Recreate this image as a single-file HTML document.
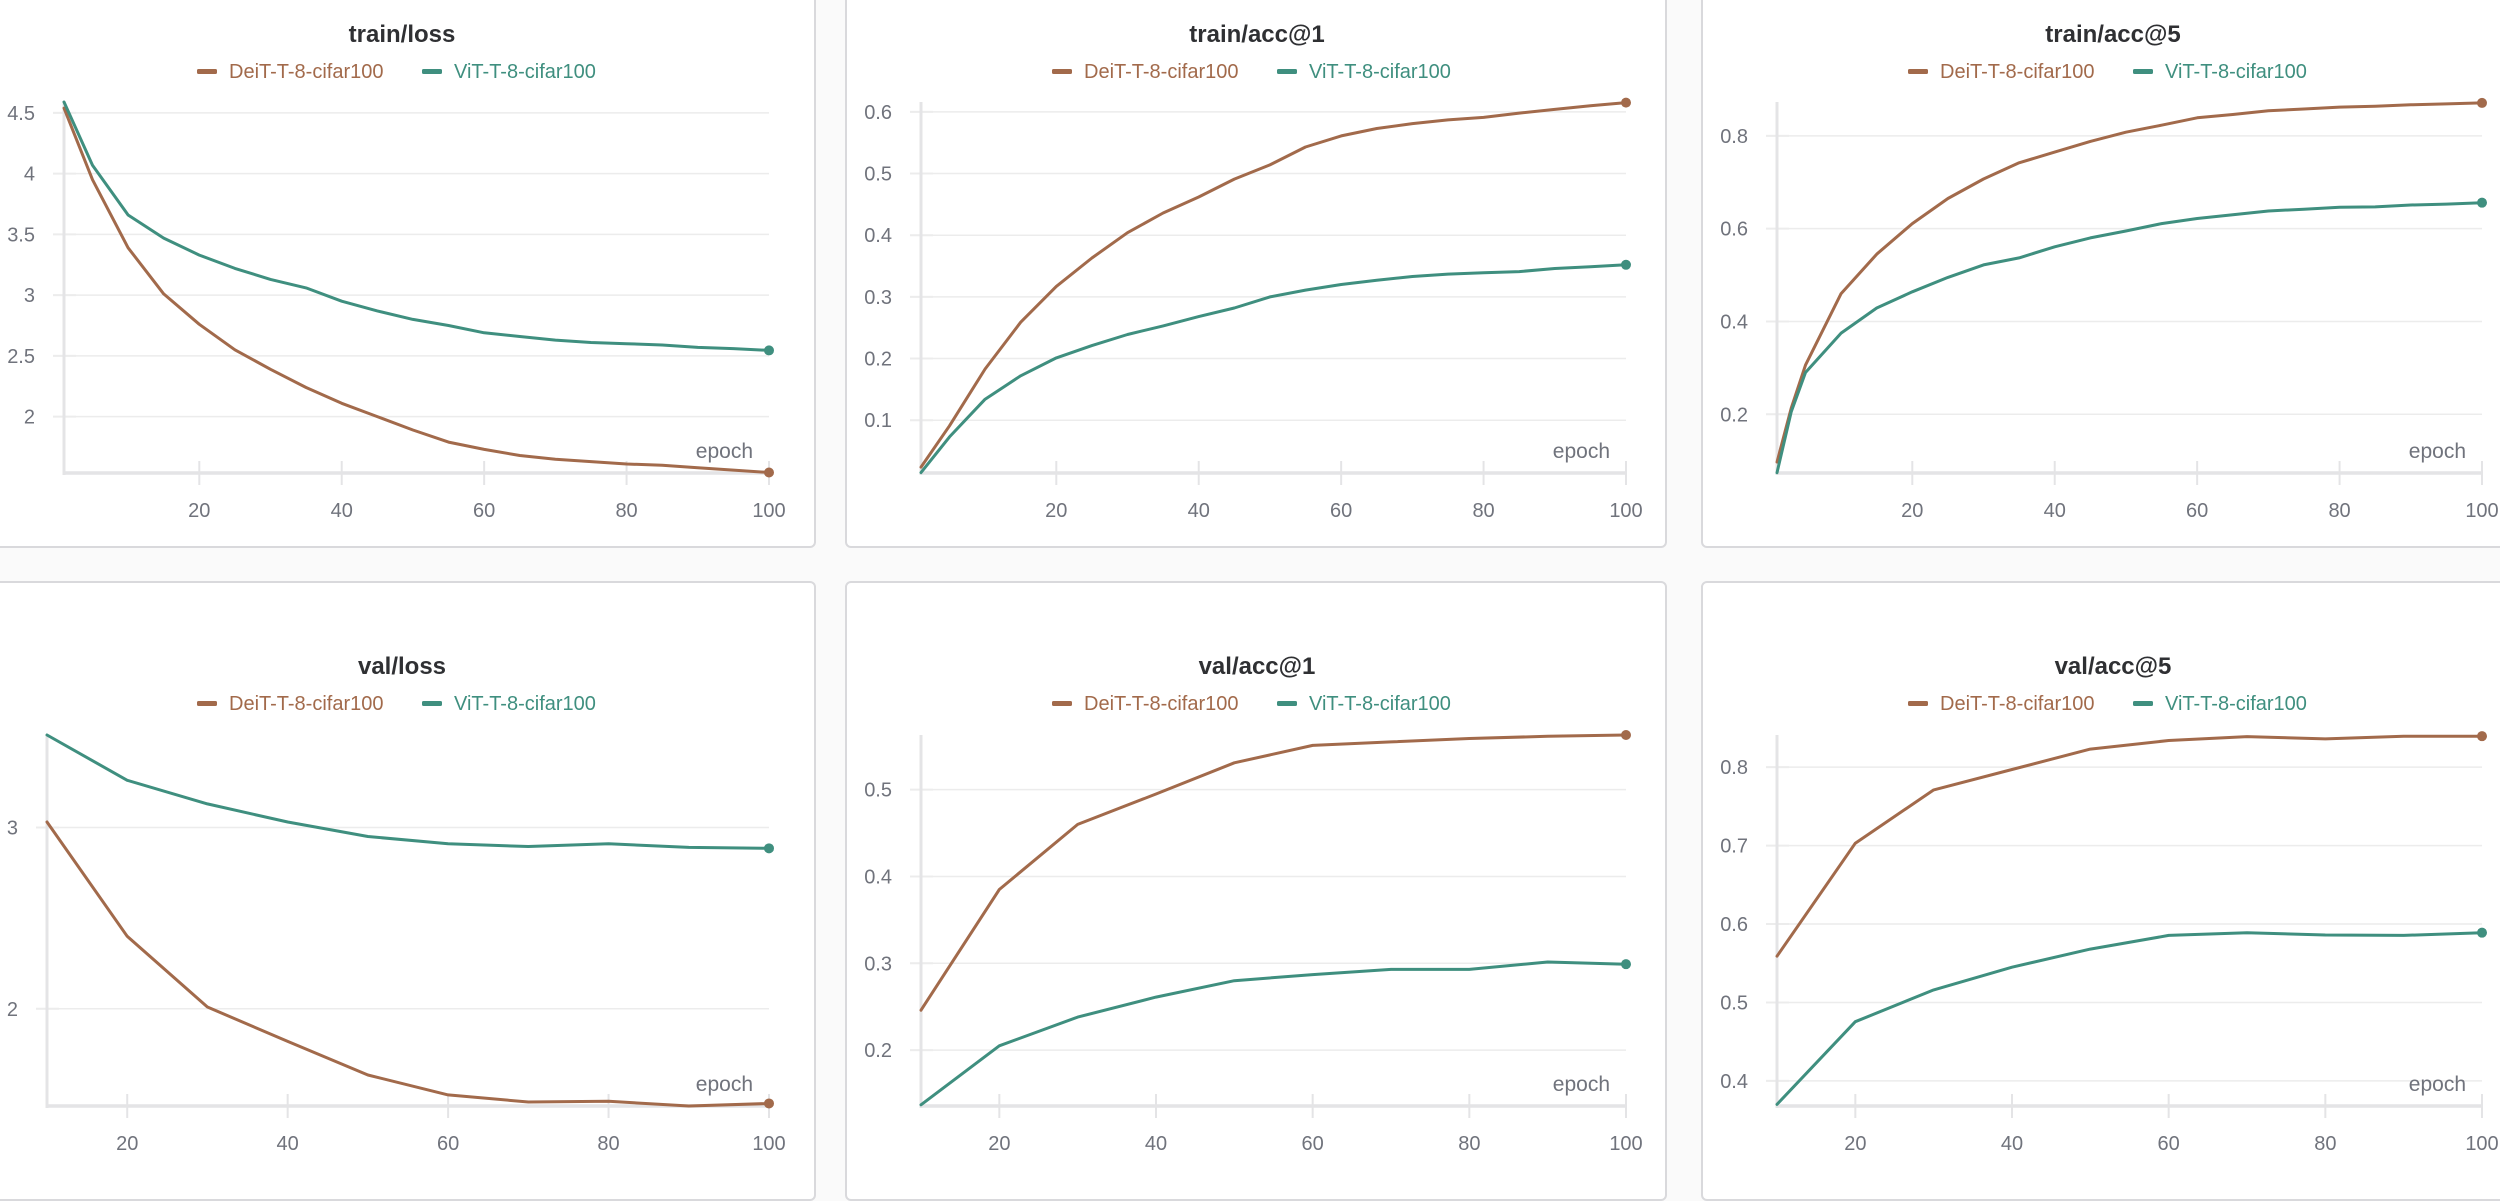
<!DOCTYPE html>
<html><head><meta charset="utf-8">
<style>
html,body{margin:0;padding:0;width:2500px;height:1168px;overflow:hidden;background:#fafafa;font-family:"Liberation Sans",sans-serif;}
.panel{position:absolute;background:#fff;border:2px solid #d9d9dc;border-radius:6px;box-sizing:border-box;}
svg{position:absolute;left:0;top:0;}
</style></head>
<body>
<div class="panel" style="left:-20px;top:-20px;width:836px;height:568px"></div>
<div class="panel" style="left:845px;top:-20px;width:822px;height:568px"></div>
<div class="panel" style="left:1701px;top:-20px;width:830px;height:568px"></div>
<div class="panel" style="left:-20px;top:581px;width:836px;height:620px"></div>
<div class="panel" style="left:845px;top:581px;width:822px;height:620px"></div>
<div class="panel" style="left:1701px;top:581px;width:830px;height:620px"></div>
<svg id="chart" width="2500" height="1168" xmlns="http://www.w3.org/2000/svg"></svg>
<script>
// ---- data ----
const trainEpochs = [1,5,10,15,20,25,30,35,40,45,50,55,60,65,70,75,80,85,90,95,100];
const trainAcc5Epochs = [1,3,5,10,15,20,25,30,35,40,45,50,55,60,65,70,75,80,85,90,95,100];
const valEpochs = [10,20,30,40,50,60,70,80,90,100];

const trainLossDeit = [4.54,3.95,3.39,3.01,2.76,2.55,2.39,2.24,2.11,2.0,1.89,1.79,1.73,1.68,1.65,1.63,1.61,1.60,1.58,1.56,1.54];
const trainLossVit  = [4.59,4.07,3.66,3.47,3.33,3.22,3.13,3.06,2.95,2.87,2.80,2.75,2.69,2.66,2.63,2.61,2.60,2.59,2.57,2.56,2.545];
const trainAcc1Deit = [0.024,0.091,0.183,0.259,0.317,0.363,0.404,0.436,0.462,0.491,0.514,0.543,0.561,0.573,0.581,0.587,0.591,0.598,0.604,0.610,0.615];
const trainAcc1Vit  = [0.015,0.073,0.134,0.172,0.201,0.221,0.239,0.253,0.268,0.282,0.300,0.311,0.320,0.327,0.333,0.337,0.339,0.341,0.346,0.349,0.352];
const trainAcc5Deit = [0.097,0.213,0.306,0.46,0.545,0.611,0.665,0.707,0.742,0.765,0.788,0.808,0.823,0.839,0.846,0.854,0.858,0.862,0.864,0.867,0.869,0.871];
const trainAcc5Vit  = [0.074,0.205,0.290,0.375,0.429,0.464,0.495,0.522,0.537,0.561,0.580,0.595,0.611,0.622,0.630,0.638,0.642,0.646,0.647,0.651,0.653,0.656];
const valLossDeit = [3.03,2.40,2.01,1.82,1.635,1.525,1.486,1.49,1.464,1.478];
const valLossVit  = [3.51,3.26,3.13,3.03,2.95,2.91,2.895,2.91,2.89,2.885];
const valAcc1Deit = [0.246,0.385,0.46,0.495,0.531,0.551,0.555,0.559,0.5615,0.563];
const valAcc1Vit  = [0.137,0.205,0.238,0.261,0.280,0.287,0.293,0.293,0.3015,0.299];
const valAcc5Deit = [0.559,0.703,0.771,0.797,0.823,0.834,0.839,0.836,0.8395,0.8395];
const valAcc5Vit  = [0.370,0.4755,0.516,0.545,0.568,0.5855,0.589,0.586,0.5855,0.589];

const xTicks = [20,40,60,80,100];
const lossTicks = [2,2.5,3,3.5,4,4.5];
const acc1Ticks = [0.1,0.2,0.3,0.4,0.5,0.6];
const acc5Ticks = [0.2,0.4,0.6,0.8];
const valLossTicks = [2,3];
const valAcc1Ticks = [0.2,0.3,0.4,0.5];
const valAcc5Ticks = [0.4,0.5,0.6,0.7,0.8];
const seriesNames = ["DeiT-T-8-cifar100","ViT-T-8-cifar100"];

const DEIT="#a26a4b", VIT="#3f8f7f";
const svg=document.getElementById('chart');
const NS="http://www.w3.org/2000/svg";
function mk(tag,attrs,parent){const e=document.createElementNS(NS,tag);for(const k in attrs)e.setAttribute(k,attrs[k]);(parent||svg).appendChild(e);return e;}

function chart(c){
  const g=mk('g',{});
  
  
  const sx=v=>c.x0+(v-c.xmin)/(c.xmax-c.xmin)*(c.x1-c.x0);
  const sy=v=>c.yb+(v-c.ymin)/(c.ymax-c.ymin)*(c.yt-c.yb);
  // title
  const t=mk('text',{x:c.cx,y:c.ty,'text-anchor':'middle','font-size':24,'font-weight':'bold',fill:'#2f3033'},g);
  t.textContent=c.title;
  
  
  // legend
  const lg=mk('g',{},g);
  
  
  const lx=c.cx-205;
  [[DEIT,seriesNames[0],lx],[VIT,seriesNames[1],lx+225]].forEach(([col,name,x],i)=>{
    const le=mk('g',{},lg);
    
    
    mk('rect',{x:x,y:c.ly-9,width:20,height:5,rx:1.5,fill:col},le);
    const tx=mk('text',{x:x+32,y:c.ly,'font-size':20,fill:col},le);
    tx.textContent=name;
  });
  // grid + y ticks
  c.yticks.forEach(v=>{
    const y=sy(v);
    mk('line',{x1:c.x0,x2:c.x1,y1:y,y2:y,stroke:'#ececec','stroke-width':1.5},g);
    mk('line',{x1:c.x0-11,x2:c.x0+12,y1:y,y2:y,stroke:'#ececec','stroke-width':2},g);
    const tl=mk('text',{x:c.x0-29,y:y+7,'text-anchor':'end','font-size':20,fill:'#70737c'},g);
    tl.textContent=String(v);
    
    
  });
  // axes
  mk('line',{x1:c.x0,x2:c.x0,y1:c.yt,y2:c.yb+2,stroke:'#e4e4e6','stroke-width':3},g);
  mk('line',{x1:c.x0,x2:c.x1,y1:c.yb,y2:c.yb,stroke:'#e4e4e6','stroke-width':3.5},g);
  xTicks.forEach(v=>{
    const x=sx(v);
    mk('line',{x1:x,x2:x,y1:c.yb-12,y2:c.yb+12,stroke:'#e4e4e6','stroke-width':2},g);
    const tl=mk('text',{x:x,y:c.yb+44,'text-anchor':'middle','font-size':20,fill:'#70737c'},g);
    tl.textContent=String(v);
    
    
  });
  const ep=mk('text',{x:c.x1-16,y:c.yb-15,'text-anchor':'end','font-size':21,fill:'#70737c'},g);
  ep.textContent='epoch';
  
  
  // series
  [[c.s1,DEIT,'deit'],[c.s2,VIT,'vit']].forEach(([vals,col,nm])=>{
    const pts=c.xs.map((e,i)=>sx(e).toFixed(1)+','+sy(vals[i]).toFixed(1)).join(' ');
    const pl=mk('polyline',{points:pts,fill:'none',stroke:col,'stroke-width':3,'stroke-linejoin':'round','stroke-linecap':'round'},g);
    
    
    const n=c.xs.length-1;
    const dot=mk('circle',{cx:sx(c.xs[n]),cy:sy(vals[n]),r:5,fill:col},g);
    
    
  });
}

chart({name:'train-loss-chart',title:'train/loss',cx:402,ty:42,ly:78,x0:64,x1:769,xmin:1,xmax:100,yb:473,yt:102,ymin:1.536,ymax:4.59,yticks:lossTicks,xs:trainEpochs,s1:trainLossDeit,s2:trainLossVit});
chart({name:'train-acc1-chart',title:'train/acc@1',cx:1257,ty:42,ly:78,x0:921,x1:1626,xmin:1,xmax:100,yb:473,yt:102,ymin:0.0144,ymax:0.616,yticks:acc1Ticks,xs:trainEpochs,s1:trainAcc1Deit,s2:trainAcc1Vit});
chart({name:'train-acc5-chart',title:'train/acc@5',cx:2113,ty:42,ly:78,x0:1777,x1:2482,xmin:1,xmax:100,yb:473,yt:102,ymin:0.0734,ymax:0.873,yticks:acc5Ticks,xs:trainAcc5Epochs,s1:trainAcc5Deit,s2:trainAcc5Vit});
chart({name:'val-loss-chart',title:'val/loss',cx:402,ty:674,ly:710,x0:47,x1:769,xmin:10,xmax:100,yb:1106,yt:735,ymin:1.464,ymax:3.51,yticks:valLossTicks,xs:valEpochs,s1:valLossDeit,s2:valLossVit});
chart({name:'val-acc1-chart',title:'val/acc@1',cx:1257,ty:674,ly:710,x0:921,x1:1626,xmin:10,xmax:100,yb:1106,yt:735,ymin:0.1356,ymax:0.563,yticks:valAcc1Ticks,xs:valEpochs,s1:valAcc1Deit,s2:valAcc1Vit});
chart({name:'val-acc5-chart',title:'val/acc@5',cx:2113,ty:674,ly:710,x0:1777,x1:2482,xmin:10,xmax:100,yb:1106,yt:735,ymin:0.368,ymax:0.841,yticks:valAcc5Ticks,xs:valEpochs,s1:valAcc5Deit,s2:valAcc5Vit});
</script>
</body></html>
